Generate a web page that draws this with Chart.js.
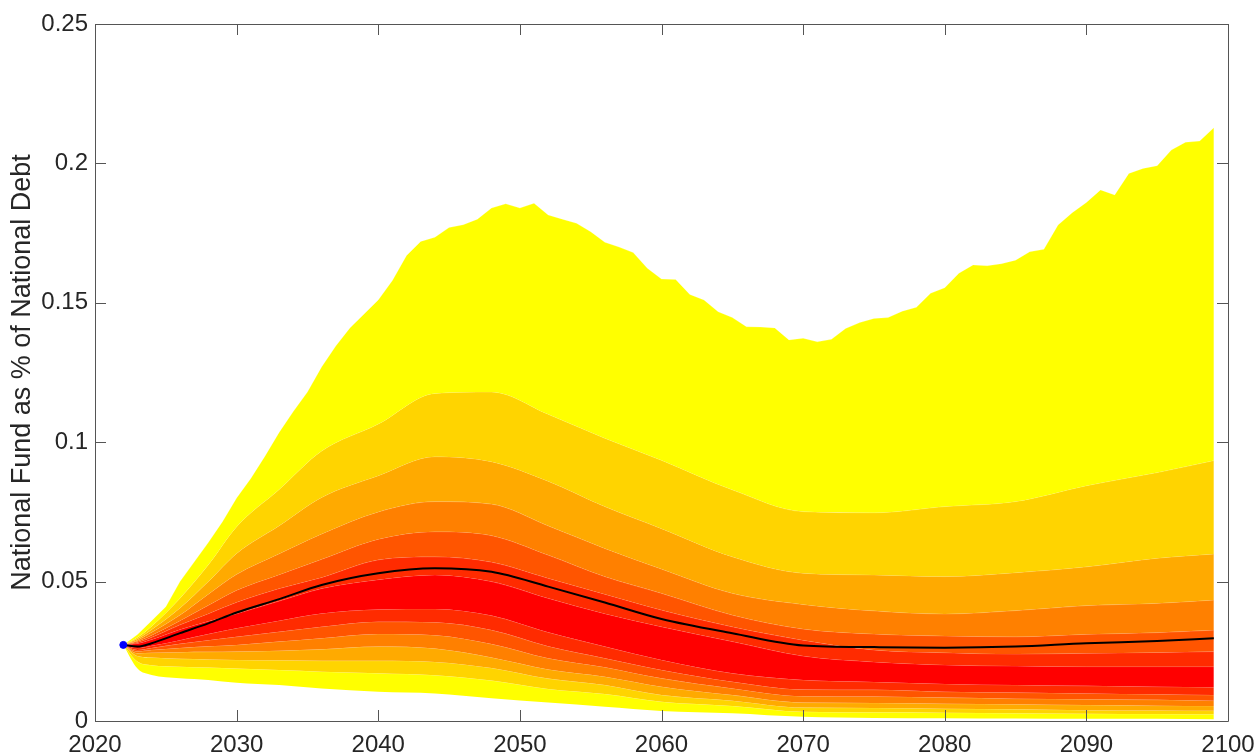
<!DOCTYPE html>
<html>
<head>
<meta charset="utf-8">
<title>National Fund fan chart</title>
<script src="https://cdn.jsdelivr.net/npm/chart.js@4"></script>
<style>
    html, body { margin: 0; padding: 0; background: #fff; }
    #wrap { width: 1255px; height: 756px; }
</style>
</head>
<body>
<div id="wrap"><canvas id="fan" width="1255" height="756"></canvas></div>
<script>
// outer (max) edge of the fan, read year by year
const topYears = [2022, 2023, 2024, 2025, 2026, 2027, 2028, 2029, 2030, 2031, 2032, 2033, 2034, 2035, 2036, 2037, 2038, 2039, 2040,
    2041, 2042, 2043, 2044, 2045, 2046, 2047, 2048, 2049, 2050, 2051, 2052, 2053, 2054, 2055, 2056, 2057, 2058, 2059, 2060,
    2061, 2062, 2063, 2064, 2065, 2066, 2067, 2068, 2069, 2070, 2071, 2072, 2073, 2074, 2075, 2076, 2077, 2078, 2079, 2080,
    2081, 2082, 2083, 2084, 2085, 2086, 2087, 2088, 2089, 2090, 2091, 2092, 2093, 2094, 2095, 2096, 2097, 2098, 2099];
const topEdge = [0.0273, 0.0310, 0.0360, 0.0410, 0.0500, 0.0570, 0.0640, 0.0715, 0.0800, 0.0870, 0.0950, 0.1035, 0.1110, 0.1180, 0.1270, 0.1345, 0.1410, 0.1460, 0.1510,
    0.1580, 0.1670, 0.1720, 0.1735, 0.1770, 0.1780, 0.1800, 0.1840, 0.1855, 0.1840, 0.1857, 0.1815, 0.1800, 0.1785, 0.1755, 0.1717, 0.1700, 0.1680, 0.1624, 0.1585,
    0.1584, 0.1530, 0.1510, 0.1468, 0.1447, 0.1414, 0.1413, 0.1410, 0.1367, 0.1373, 0.1360, 0.1369, 0.1408, 0.1429, 0.1444, 0.1447, 0.1470, 0.1484, 0.1534, 0.1554,
    0.1606, 0.1636, 0.1633, 0.1640, 0.1653, 0.1683, 0.1692, 0.1779, 0.1823, 0.1860, 0.1905, 0.1887, 0.1964, 0.1982, 0.1992, 0.2048, 0.2076, 0.2080, 0.2128];

// inner band edges, top to bottom
const years = [2022, 2023, 2024, 2026, 2028, 2030, 2033, 2036, 2040, 2044, 2048, 2052, 2056, 2060, 2065, 2070, 2075, 2080, 2085, 2090, 2095, 2099];
const up2 = [0.0273, 0.0300, 0.0340, 0.0440, 0.0560, 0.0697, 0.0830, 0.0968, 0.1065, 0.1175, 0.1180, 0.1100, 0.1014, 0.0935, 0.0829, 0.0751, 0.0747, 0.0769, 0.0787, 0.0844, 0.0891, 0.0934];
const up3 = [0.0273, 0.0295, 0.0328, 0.0405, 0.0500, 0.0601, 0.0700, 0.0802, 0.0880, 0.0948, 0.0930, 0.0860, 0.0769, 0.0690, 0.0589, 0.0530, 0.0524, 0.0518, 0.0532, 0.0553, 0.0584, 0.0599];
const up4 = [0.0273, 0.0290, 0.0318, 0.0380, 0.0455, 0.0526, 0.0600, 0.0671, 0.0750, 0.0787, 0.0778, 0.0700, 0.0619, 0.0545, 0.0458, 0.0418, 0.0395, 0.0384, 0.0396, 0.0414, 0.0422, 0.0434];
const up5 = [0.0273, 0.0286, 0.0308, 0.0360, 0.0415, 0.0469, 0.0525, 0.0580, 0.0652, 0.0679, 0.0665, 0.0595, 0.0518, 0.0458, 0.0380, 0.0330, 0.0312, 0.0305, 0.0302, 0.0311, 0.0317, 0.0326];
const up6 = [0.0273, 0.0282, 0.0300, 0.0345, 0.0385, 0.0426, 0.0475, 0.0515, 0.0578, 0.0589, 0.0570, 0.0512, 0.0455, 0.0398, 0.0338, 0.0290, 0.0255, 0.0245, 0.0240, 0.0243, 0.0246, 0.0249];
const up7 = [0.0273, 0.0278, 0.0292, 0.0328, 0.0358, 0.0385, 0.0430, 0.0475, 0.0507, 0.0524, 0.0500, 0.0440, 0.0385, 0.0338, 0.0285, 0.0233, 0.0212, 0.0201, 0.0197, 0.0195, 0.0195, 0.0195];
const lo7 = [0.0273, 0.0262, 0.0270, 0.0290, 0.0312, 0.0333, 0.0360, 0.0386, 0.0400, 0.0402, 0.0378, 0.0318, 0.0267, 0.0219, 0.0171, 0.0147, 0.0140, 0.0133, 0.0129, 0.0126, 0.0123, 0.0121];
const lo6 = [0.0273, 0.0255, 0.0262, 0.0277, 0.0290, 0.0302, 0.0320, 0.0338, 0.0356, 0.0354, 0.0326, 0.0268, 0.0225, 0.0183, 0.0141, 0.0113, 0.0112, 0.0105, 0.0102, 0.0099, 0.0096, 0.0093];
const lo5 = [0.0273, 0.0250, 0.0255, 0.0262, 0.0268, 0.0273, 0.0285, 0.0297, 0.0312, 0.0308, 0.0276, 0.0225, 0.0193, 0.0153, 0.0117, 0.0089, 0.0088, 0.0084, 0.0080, 0.0078, 0.0076, 0.0073];
const lo4 = [0.0273, 0.0243, 0.0245, 0.0247, 0.0248, 0.0249, 0.0252, 0.0257, 0.0267, 0.0260, 0.0228, 0.0185, 0.0159, 0.0123, 0.0093, 0.0066, 0.0065, 0.0062, 0.0060, 0.0057, 0.0055, 0.0054];
const lo3 = [0.0273, 0.0233, 0.0228, 0.0223, 0.0221, 0.0219, 0.0218, 0.0216, 0.0216, 0.0212, 0.0190, 0.0152, 0.0129, 0.0093, 0.0073, 0.0048, 0.0047, 0.0044, 0.0042, 0.0039, 0.0038, 0.0037];
const lo2 = [0.0273, 0.0213, 0.0200, 0.0195, 0.0192, 0.0188, 0.0183, 0.0177, 0.0171, 0.0164, 0.0145, 0.0115, 0.0097, 0.0069, 0.0054, 0.0033, 0.0031, 0.0030, 0.0028, 0.0026, 0.0025, 0.0024];
const lo1 = [0.0273, 0.0188, 0.0165, 0.0153, 0.0147, 0.0137, 0.0129, 0.0117, 0.0105, 0.0099, 0.0082, 0.0066, 0.0051, 0.0036, 0.0028, 0.0015, 0.0011, 0.0010, 0.0009, 0.0008, 0.0008, 0.0006];
const median = [0.0273, 0.0267, 0.0279, 0.0315, 0.0350, 0.0389, 0.0437, 0.0488, 0.0530, 0.0548, 0.0535, 0.0482, 0.0425, 0.0366, 0.0315, 0.0271, 0.0265, 0.0263, 0.0267, 0.0279, 0.0287, 0.0297];
const startPoint = [2022, 0.0273];

const xTicks = [2020, 2030, 2040, 2050, 2060, 2070, 2080, 2090, 2100];
const yTicks = [0, 0.05, 0.1, 0.15, 0.2, 0.25];

// autumn colours, outer band -> centre -> outer band
const bandColors = ['#ffff00', '#ffd400', '#ffaa00', '#ff8000', '#ff5500', '#ff2b00', '#ff0000',
    '#ff2b00', '#ff5500', '#ff8000', '#ffaa00', '#ffd400', '#ffff00'];

const pts = (xs, ys) => xs.map((x, i) => ({ x, y: ys[i] }));

const edges = [pts(topYears, topEdge)].concat(
    [up2, up3, up4, up5, up6, up7, lo7, lo6, lo5, lo4, lo3, lo2, lo1].map(e => pts(years, e)));

const bandSets = edges.map((data, i) => ({
    data,
    borderWidth: 0.6,
    borderColor: 'rgba(255,255,255,0.35)',
    backgroundColor: bandColors[i] || 'rgba(0,0,0,0)',
    fill: i < bandColors.length ? '+1' : false,
    pointRadius: 0,
    cubicInterpolationMode: i === 0 ? 'default' : 'monotone',
    order: 5
}));

const tickFont = { family: 'Liberation Sans, Arial, sans-serif', size: 24 };

// box round the plot with inward ticks on all four sides
const boxAxes = {
    id: 'boxAxes',
    afterDatasetsDraw(chart) {
        const { ctx, chartArea: a, scales: { x, y } } = chart;
        const len = 11;
        ctx.save();
        ctx.strokeStyle = '#555';
        ctx.lineWidth = 1;
        ctx.beginPath();
        ctx.rect(Math.round(a.left) + 0.5, Math.round(a.top) + 0.5, Math.round(a.width), Math.round(a.height));
        xTicks.forEach(v => {
            const px = Math.round(x.getPixelForValue(v)) + 0.5;
            ctx.moveTo(px, a.bottom); ctx.lineTo(px, a.bottom - len);
            ctx.moveTo(px, a.top); ctx.lineTo(px, a.top + len);
        });
        yTicks.forEach(v => {
            const py = Math.round(y.getPixelForValue(v)) + 0.5;
            ctx.moveTo(a.left, py); ctx.lineTo(a.left + len, py);
            ctx.moveTo(a.right, py); ctx.lineTo(a.right - len, py);
        });
        ctx.stroke();
        ctx.restore();
    }
};

new Chart(document.getElementById('fan'), {
    type: 'line',
    data: {
        datasets: [
            {
                data: pts(years, median),
                borderColor: '#000',
                borderWidth: 2,
                pointRadius: 0,
                fill: false,
                cubicInterpolationMode: 'monotone',
                order: 1
            },
            {
                data: [{ x: startPoint[0], y: startPoint[1] }],
                showLine: false,
                pointRadius: 3.5,
                pointBackgroundColor: '#0000ff',
                pointBorderColor: '#0000ff',
                order: 0
            }
        ].concat(bandSets)
    },
    options: {
        responsive: false,
        animation: false,
        devicePixelRatio: 1,
        layout: { padding: { top: 24, right: 27, left: 0, bottom: 0 } },
        plugins: { legend: { display: false }, tooltip: { enabled: false } },
        scales: {
            x: {
                type: 'linear',
                min: 2020,
                max: 2100,
                afterBuildTicks: s => { s.ticks = xTicks.map(value => ({ value })); },
                afterFit: s => { s.height = 35; s.paddingLeft = 0; s.paddingRight = 0; },
                grid: { display: false, drawTicks: false },
                border: { display: false },
                ticks: { autoSkip: false, maxRotation: 0, padding: 10, color: '#262626', font: tickFont, callback: v => String(v) }
            },
            y: {
                type: 'linear',
                min: 0,
                max: 0.25,
                afterBuildTicks: s => { s.ticks = yTicks.map(value => ({ value })); },
                afterFit: s => { s.width = 95; s.paddingTop = 0; s.paddingBottom = 0; },
                grid: { display: false, drawTicks: false },
                border: { display: false },
                ticks: { padding: 7, color: '#262626', font: tickFont, callback: v => String(+v.toFixed(2)) },
                title: {
                    display: true,
                    text: 'National Fund as % of National Debt',
                    color: '#262626',
                    font: { family: 'Liberation Sans, Arial, sans-serif', size: 27 },
                    padding: { top: 6, bottom: 0 }
                }
            }
        }
    },
    plugins: [boxAxes]
});
</script>
</body>
</html>
